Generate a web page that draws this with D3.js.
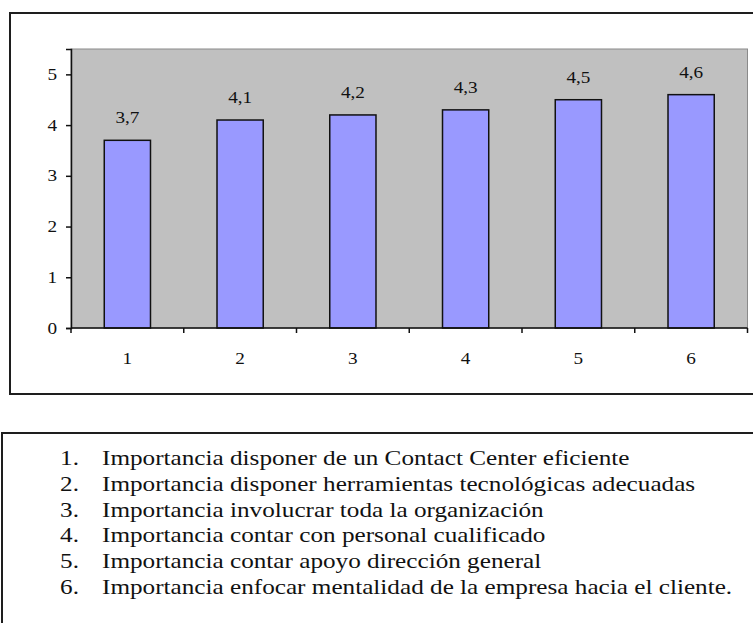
<!DOCTYPE html>
<html>
<head>
<meta charset="utf-8">
<script src="https://cdn.jsdelivr.net/npm/d3@7"></script>
<style>
  html, body { margin: 0; padding: 0; background: #fff; }
  svg { display: block; }
  text { font-family: "Liberation Serif", "Times New Roman", serif; fill: #111; }
</style>
</head>
<body>
<svg id="chart" width="753" height="623"></svg>
<script>
// Category codes on the x axis
const categories = ["1", "2", "3", "4", "5", "6"];
// Mean importance score per category
const values = [3.7, 4.1, 4.2, 4.3, 4.5, 4.6];
// Y axis ticks
const yTicks = [0, 1, 2, 3, 4, 5];
// Legend describing each category code
const legendItems = [
  "Importancia disponer de un Contact Center eficiente",
  "Importancia disponer herramientas tecnológicas adecuadas",
  "Importancia involucrar toda la organización",
  "Importancia contar con personal cualificado",
  "Importancia contar apoyo dirección general",
  "Importancia enfocar mentalidad de la empresa hacia el cliente."
];

const svg = d3.select("#chart");
const esFormat = d3.formatLocale({ decimal: ",", thousands: ".", grouping: [3], currency: ["", " €"] }).format(".1f");

// Type is set slightly wide, as in the printed report
const SX = 1.2;
function placeText(sel, xf, yf) {
  return sel.attr("transform", (d, i) => `translate(${xf(d, i)},${yf(d, i)}) scale(${SX},1)`);
}

// Plot geometry
const plot = { left: 71, right: 747.5, top: 49, bottom: 328 };

// Outer frame of the chart
svg.append("rect")
  .attr("x", 10).attr("y", 13)
  .attr("width", 780).attr("height", 381)
  .attr("fill", "none").attr("stroke", "#1e1e1e").attr("stroke-width", 2);

const x = d3.scaleBand()
  .domain(categories)
  .range([plot.left, plot.right])
  .paddingInner(0.59)
  .paddingOuter(0.295);

const y = d3.scaleLinear()
  .domain([0, 5.5])
  .range([plot.bottom, plot.top]);

// Grey plot area
svg.append("rect")
  .attr("x", plot.left).attr("y", plot.top)
  .attr("width", plot.right - plot.left).attr("height", plot.bottom - plot.top)
  .attr("fill", "#c0c0c0").attr("stroke", "#8a8a8a").attr("stroke-width", 1);

// Bars
svg.append("g").selectAll("rect")
  .data(values)
  .join("rect")
  .attr("x", (d, i) => x(categories[i]))
  .attr("y", d => y(d))
  .attr("width", x.bandwidth())
  .attr("height", d => y(0) - y(d))
  .attr("fill", "#9999ff")
  .attr("stroke", "#111")
  .attr("stroke-width", 1.5);

// Value labels above bars
svg.append("g").selectAll("text")
  .data(values)
  .join("text")
  .attr("text-anchor", "middle")
  .attr("font-size", 16)
  .call(placeText, (d, i) => x(categories[i]) + x.bandwidth() / 2, d => y(d) - 17)
  .text(d => esFormat(d));

// Y axis line and ticks
const yAxis = svg.append("g")
  .attr("transform", `translate(${plot.left},0)`)
  .call(d3.axisLeft(y).tickValues(yTicks).tickSize(5).tickFormat(""));
yAxis.select(".domain").attr("stroke", "#111").attr("stroke-width", 1.5);
yAxis.selectAll(".tick line").attr("stroke", "#111").attr("stroke-width", 1.5);

// Y tick labels
svg.append("g").selectAll("text")
  .data(yTicks)
  .join("text")
  .attr("text-anchor", "end")
  .attr("dy", "0.35em")
  .attr("font-size", 16)
  .call(placeText, () => 57, d => y(d))
  .text(d3.format("d"));

// X axis: ticks sit on category boundaries, labels centred on categories
const step = x.step();
const boundaries = d3.range(categories.length + 1).map(i => plot.left + i * step);
const xAxis = svg.append("g");
xAxis.append("line")
  .attr("x1", plot.left).attr("x2", plot.right)
  .attr("y1", plot.bottom).attr("y2", plot.bottom)
  .attr("stroke", "#111").attr("stroke-width", 1.5);
xAxis.selectAll("line.tick")
  .data(boundaries)
  .join("line")
  .attr("class", "tick")
  .attr("x1", d => d).attr("x2", d => d)
  .attr("y1", plot.bottom).attr("y2", plot.bottom + 5)
  .attr("stroke", "#111").attr("stroke-width", 1.5);
xAxis.selectAll("text")
  .data(categories)
  .join("text")
  .attr("text-anchor", "middle")
  .attr("font-size", 16)
  .call(placeText, d => x(d) + x.bandwidth() / 2, () => 364)
  .text(d => d);

// Legend box
svg.append("rect")
  .attr("x", 2).attr("y", 433)
  .attr("width", 800).attr("height", 300)
  .attr("fill", "none").attr("stroke", "#1e1e1e").attr("stroke-width", 2);

const legend = svg.append("g");
legend.selectAll("text.num")
  .data(legendItems)
  .join("text")
  .attr("class", "num")
  .attr("text-anchor", "end")
  .attr("font-size", 21)
  .call(placeText, () => 79, (d, i) => 465 + i * 25.8)
  .text((d, i) => `${categories[i]}.`);
legend.selectAll("text.item")
  .data(legendItems)
  .join("text")
  .attr("class", "item")
  .attr("font-size", 21)
  .call(placeText, () => 102, (d, i) => 465 + i * 25.8)
  .text(d => d);
</script>
</body>
</html>
